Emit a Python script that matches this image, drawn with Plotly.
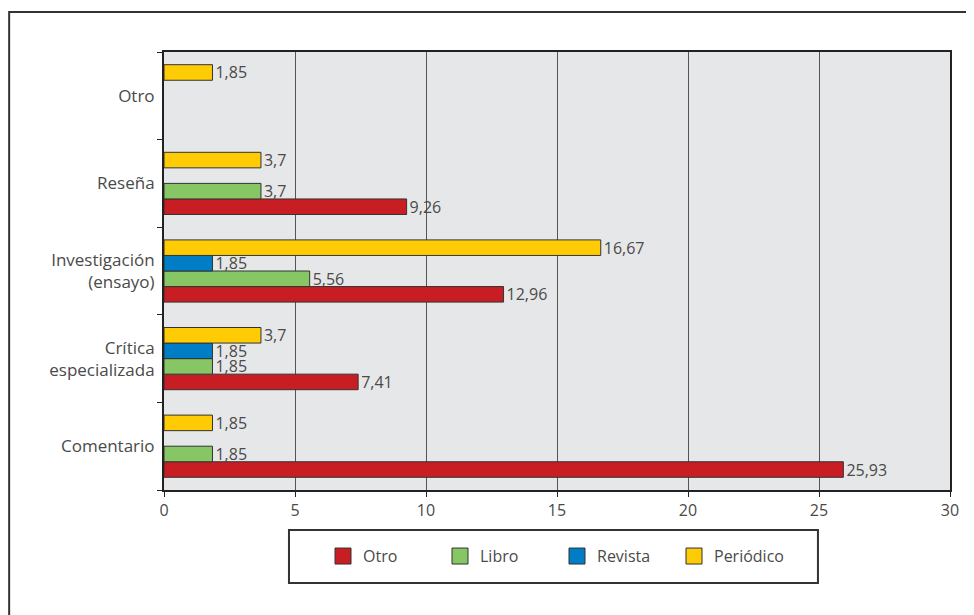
import plotly.graph_objects as go

# Categories (first one is drawn at the bottom)
categories = ["Comentario", "Crítica<br>especializada", "Investigación<br>(ensayo)", "Reseña", "Otro"]

# Series values (None = no bar)
otro = [25.93, 7.41, 12.96, 9.26, None]
libro = [1.85, 1.85, 5.56, 3.7, None]
revista = [None, 1.85, 1.85, None, None]
periodico = [1.85, 3.7, 16.67, 3.7, 1.85]

series_names = ["Otro", "Libro", "Revista", "Periódico"]
series_colors = ["#C81E23", "#86C665", "#007DC5", "#FFCB05"]

x_ticks = [0, 5, 10, 15, 20, 25, 30]

FONT = "Open Sans"
TEXT_COLOR = "#4a4a4a"


def fmt(v):
    # decimal comma labels, nothing for empty bars
    if v is None:
        return ""
    return f"{v:g}".replace(".", ",")


fig = go.Figure()

for name, vals, col in zip(series_names, [otro, libro, revista, periodico], series_colors):
    fig.add_trace(go.Bar(
        y=categories, x=vals, orientation="h", name=name,
        marker=dict(color=col, line=dict(color="#333333", width=1)),
        text=[fmt(v) for v in vals], textposition="outside", constraintext="none",
        textfont=dict(family=FONT, size=16, color=TEXT_COLOR),
        cliponaxis=False, showlegend=False, hoverinfo="skip",
    ))

# Legend entries with larger square swatches
for name, col in zip(series_names, series_colors):
    fig.add_trace(go.Scatter(
        x=[None], y=[None], mode="markers", name=name,
        marker=dict(symbol="square", size=22, color=col, line=dict(color="#333333", width=1)),
    ))

# page body adds 8px, so the figure is 8px smaller than the window
fig.update_layout(
    width=966, height=607,
    barmode="group", bargap=0.29, bargroupgap=0,
    plot_bgcolor="#E6E7E8", paper_bgcolor="white",
    margin=dict(l=156, r=24, t=44, b=125),
    font=dict(family=FONT, size=16, color=TEXT_COLOR),
    legend=dict(
        orientation="h", x=0.5, xanchor="center", y=-0.151, yanchor="middle",
        borderwidth=0, bgcolor="rgba(0,0,0,0)",
        font=dict(family=FONT, size=16, color=TEXT_COLOR),
        entrywidth=72, traceorder="normal",
    ),
)

fig.update_xaxes(
    range=[0, 30], tickvals=x_ticks, ticktext=[str(t) for t in x_ticks],
    showgrid=True, gridcolor="#555555", gridwidth=1, zeroline=False,
    showline=True, linecolor="#222222", linewidth=2, mirror=True,
    ticks="outside", ticklen=5, tickcolor="#222222",
    tickfont=dict(family=FONT, size=16, color=TEXT_COLOR),
)
fig.update_yaxes(
    categoryorder="array", categoryarray=categories,
    showgrid=False, showline=True, linecolor="#222222", linewidth=2, mirror=True,
    ticks="outside", tickson="boundaries", ticklen=5, tickcolor="#222222",
    tickfont=dict(family=FONT, size=17, color=TEXT_COLOR), ticklabelstandoff=4,
)

# Outer frame around the whole graphic
fig.add_shape(type="rect", xref="paper", yref="paper",
              x0=-0.197, x1=1.06, y0=-0.45, y1=1.0913,
              line=dict(color="#333333", width=2), layer="below")
# Frame around the legend
fig.add_shape(type="rect", xref="paper", yref="paper",
              x0=0.159, x1=0.832, y0=-0.2123, y1=-0.0913,
              line=dict(color="#333333", width=2), layer="below")

fig.write_html("out.html")
